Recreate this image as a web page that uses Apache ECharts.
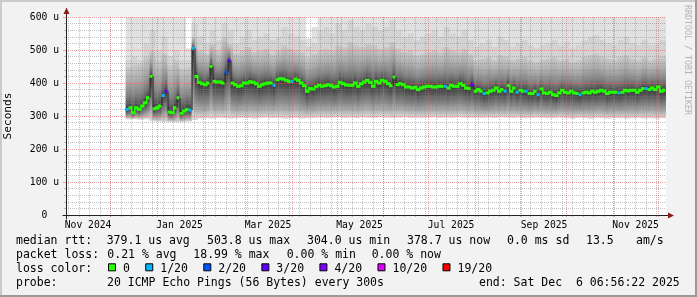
<!DOCTYPE html>
<html><head><meta charset="utf-8">
<script src="https://cdn.jsdelivr.net/npm/echarts@6/dist/echarts.min.js"></script>
<style>html,body{margin:0;padding:0;background:#f2f2f2}#c{width:697px;height:297px}</style>
</head><body><div id="c"></div>
<script>
const DAY = 86400000;
const axisStart = Date.UTC(2024, 10, 1, 6, 56, 22);
const axisEnd = Date.UTC(2025, 11, 6, 6, 56, 22);
const seriesStart = Date.UTC(2024, 11, 11);
const medianStepDays = 2;
const smokeStepDays = 4;

// median rtt (us), one value per 2 days from 2024-12-11
const median = [
  320,325,310,325,320,330,340,355,420,322,
  325,330,362,375,312,310,325,355,308,315,
  320,318,505,420,402,398,395,400,450,405,
  403,403,400,433,468,400,395,390,392,400,
  400,404,402,398,390,395,398,400,400,393,
  410,413,412,408,405,405,412,408,400,392,
  375,383,382,389,393,390,392,395,392,388,
  390,402,398,394,393,393,400,390,398,403,
  408,402,390,405,400,408,405,398,392,418,
  395,398,395,388,388,385,387,380,385,388,
  390,390,388,388,390,390,390,385,393,390,
  390,398,393,385,383,395,375,380,375,368,
  370,375,378,385,375,380,375,392,375,385,
  372,378,375,375,368,368,375,365,382,370,
  368,372,365,362,370,378,372,370,375,370,
  368,365,370,372,370,375,372,375,378,375,
  368,372,372,372,370,372,378,376,378,378,
  372,378,383,383,380,385,380,388,375,378
];
// lost pings out of 20, same buckets as median
const lossCount = [
  1,0,0,0,0,0,0,0,0,0, 0,0,1,3,0,0,0,0,0,0,
  0,1,1,0,0,0,0,0,0,0, 0,0,0,2,3,0,0,0,0,0,
  0,0,0,0,0,0,0,0,0,1, 0,0,0,0,0,1,0,0,0,0,
  0,0,0,0,0,0,0,0,0,0, 0,0,0,0,0,0,0,0,0,0,
  0,0,0,0,0,0,0,0,0,0, 0,0,0,0,0,0,0,0,0,0,
  0,0,0,0,0,0,1,0,0,0, 0,0,0,0,0,3,0,0,0,1,
  0,0,0,0,0,0,1,0,0,0, 1,0,0,1,0,0,0,1,0,0,
  0,0,0,0,0,0,0,0,0,0, 0,1,0,0,0,0,0,0,0,0,
  0,0,0,0,1,0,0,0,0,0, 0,0,0,1,0,0,0,0,0,0
];
// smoke: lowest ping, upper edge of dense smoke, highest ping (us), one per 4 days
const smokeLow = [
  290,290,289,290,284,283,282,282,281,282,
  283,288,292,293,292,294,293,292,293,294,
  293,292,294,295,293,294,292,293,294,292,
  293,294,295,294,295,296,294,295,294,296,
  295,294,296,295,294,295,296,294,295,294,
  295,296,294,295,294,296,295,294,295,294,
  295,294,296,295,294,295,293,294,295,294,
  293,294,295,293,292,294,293,292,294,293,
  292,294,293,292,293,294,292,293,292,293
];
const smokeHigh = [
  450,455,460,480,500,470,490,455,470,445,
  450,540,500,490,520,500,540,520,490,500,
  510,495,500,505,490,500,515,505,500,495,
  480,490,500,505,500,515,510,525,515,510,
  520,515,505,510,525,505,495,500,485,490,
  495,500,495,510,500,495,505,490,470,475,
  480,470,485,480,470,475,480,470,465,470,
  475,480,470,475,465,470,480,485,490,480,
  475,470,480,485,475,470,480,470,475,480
];
// upper edge of the faint streaks above the dense smoke (us)
const smokeStreak = [
  470,480,470,520,560,500,540,480,500,470,
  470,580,540,520,560,530,580,560,520,540,
  560,530,540,550,530,540,570,550,540,530,
  510,520,560,570,550,580,560,590,570,560,
  580,570,560,570,590,560,540,550,530,540,
  550,560,540,570,550,540,560,530,510,520,
  530,510,540,530,510,520,530,515,505,515,
  520,530,515,525,505,515,530,540,545,530,
  520,515,530,540,520,515,530,515,520,530
];
const smokeTop = [
  620,620,620,620,620,620,620,620,620,620,
  505,620,620,620,620,620,620,620,620,620,
  620,620,620,620,620,620,620,620,620,620,
  535,570,620,620,620,620,620,620,620,620,
  620,620,620,620,620,620,620,620,620,620,
  620,620,620,620,620,620,620,620,620,620,
  620,620,620,620,620,620,620,620,620,620,
  620,620,620,620,620,620,620,620,620,620,
  620,620,620,620,620,620,620,620,620,620
];

const yTickLabels = ['  0  ','100 u','200 u','300 u','400 u','500 u','600 u'];
const xLabels = ['Nov 2024','Jan 2025','Mar 2025','May 2025','Jul 2025','Sep 2025','Nov 2025'];
const xLabelMonthOffsets = [0,2,4,6,8,10,12];
const xMajorMonthOffsets = [1,2,3,4,5,6,7,8,9,10,11,12,13];

const lossLevels = [0,1,2,3,4,10,19];
const lossLabels = ['0','1/20','2/20','3/20','4/20','10/20','19/20'];
const lossColors = ['#26ff00','#00b8ff','#0059ff','#5e00ff','#7e00ff','#dd00ff','#ff0000'];

const medianStats = ['379.1 us avg','503.8 us max','304.0 us min','378.7 us now','0.0 ms sd','13.5','am/s'];
const lossStats = ['0.21 % avg','18.99 % max','0.00 % min','0.00 % now'];
const probeText = '20 ICMP Echo Pings (56 Bytes) every 300s';
const endText = 'end: Sat Dec  6 06:56:22 2025';

const MONO = '"DejaVu Sans Mono", monospace';

// ---- axis structure ----
const monthTicks = xMajorMonthOffsets.map(k => Date.UTC(2024, 10 + k, 1));
const labelPos = xLabelMonthOffsets.map(k => Date.UTC(2024, 10 + k, 1) + 15 * DAY);
const weekTicks = [];
for (let t = Date.UTC(2024, 10, 3); t < axisEnd; t += 7 * DAY) weekTicks.push(t);

function lossColor(n) {
  let c = lossColors[0];
  for (let k = 0; k < lossLevels.length; k++) if (n >= lossLevels[k]) c = lossColors[k];
  return c;
}

// ---- series data ----
const medianData = median.map((m, i) => {
  const t0 = seriesStart + i * medianStepDays * DAY;
  const t1 = Math.min(t0 + medianStepDays * DAY, axisEnd);
  return [t0, t1, m, i > 0 ? median[i - 1] : m, lossCount[i], i > 0 ? lossCount[i - 1] : lossCount[i]];
});
const smokeData = median.map((m, i) => {
  const t0 = seriesStart + i * medianStepDays * DAY;
  const t1 = Math.min(t0 + medianStepDays * DAY, axisEnd);
  const j = Math.floor(i * medianStepDays / smokeStepDays);
  return [t0, t1, smokeLow[j], m, smokeHigh[j], smokeStreak[j], smokeTop[j]];
});

const upperStops = [
  {offset: 0, color: '#c9c9c9'}, {offset: 0.35, color: '#ababab'},
  {offset: 0.65, color: '#868686'}, {offset: 0.88, color: '#5c5c5c'}, {offset: 1, color: '#383838'}
];
const lowerStops = [
  {offset: 0, color: '#383838'}, {offset: 0.25, color: '#5a5a5a'},
  {offset: 0.55, color: '#878787'}, {offset: 0.8, color: '#b2b2b2'}, {offset: 1, color: '#dcdcdc'}
];

function renderSmoke(params, api) {
  const t0 = api.value(0), t1 = api.value(1);
  const lo = api.value(2), m = api.value(3);
  const hi = Math.max(api.value(4), m + 20);
  const st = Math.max(api.value(5), hi);
  const top = Math.max(api.value(6), hi);
  const x0 = api.coord([t0, 0])[0], x1 = api.coord([t1, 0])[0];
  const yLo = api.coord([t0, lo])[1], yM = api.coord([t0, m])[1];
  const yHi = api.coord([t0, hi])[1], ySt = api.coord([t0, Math.min(st, top)])[1], yTop = api.coord([t0, top])[1];
  const w = x1 - x0 + 0.4;
  return {type: 'group', children: [
    {type: 'rect', shape: {x: x0, y: yTop, width: w, height: yHi - yTop}, style: {fill: '#e0e0e0'}},
    {type: 'rect', shape: {x: x0, y: ySt, width: w, height: yHi - ySt}, style: {fill: '#d2d2d2'}},
    {type: 'rect', shape: {x: x0, y: yHi, width: w, height: yM - yHi},
      style: {fill: new echarts.graphic.LinearGradient(0, 0, 0, 1, upperStops)}},
    {type: 'rect', shape: {x: x0, y: yM, width: w, height: yLo - yM},
      style: {fill: new echarts.graphic.LinearGradient(0, 0, 0, 1, lowerStops)}}
  ]};
}
function renderMedian(params, api) {
  const t0 = api.value(0), t1 = api.value(1), m = api.value(2), mp = api.value(3);
  const loss = api.value(4), lossPrev = api.value(5);
  const p0 = api.coord([t0, m]), p1 = api.coord([t1, m]);
  const yp = api.coord([t0, mp])[1];
  const c = lossColor(loss);
  const children = [];
  if (Math.abs(yp - p0[1]) > 6) {
    children.push({type: 'line', shape: {x1: p0[0] + 0.5, y1: yp, x2: p0[0] + 0.5, y2: p0[1]}, style: {stroke: '#2a2a2a', lineWidth: 1}});
  } else if (lossPrev === loss) {
    const yt = Math.min(yp, p0[1]) - 1.5, yb = Math.max(yp, p0[1]) + 1.5;
    children.push({type: 'rect', shape: {x: p0[0] - 0.5, y: yt, width: 1.5, height: yb - yt}, style: {fill: c}});
  }
  children.push({type: 'rect', shape: {x: p0[0], y: p0[1] - 1.5, width: p1[0] - p0[0], height: 3}, style: {fill: c}});
  return {type: 'group', children: children};
}

const chart = echarts.init(document.getElementById('c'), null, {renderer: 'canvas'});
const minorGrid = 'rgba(130,130,130,0.5)';
const majorGrid = 'rgba(225,100,100,0.6)';
chart.setOption({
  backgroundColor: '#f2f2f2',
  animation: false,
  grid: {left: 66, top: 17, width: 600, height: 198, show: true, backgroundColor: '#ffffff', borderWidth: 0, outerBoundsMode: 'none'},
  xAxis: [
    {type: 'value', min: axisStart, max: axisEnd, z: 4,
      axisLine: {show: false},
      axisTick: {show: true, customValues: monthTicks, length: 2, lineStyle: {color: majorGrid}},
      axisLabel: {show: true, customValues: labelPos, fontFamily: MONO, fontSize: 9.7, color: '#000', margin: 5,
        formatter: v => { const k = labelPos.findIndex(p => Math.abs(p - v) < DAY); return k >= 0 ? xLabels[k] : ''; }},
      splitLine: {show: true, lineStyle: {color: majorGrid, type: [1, 1], width: 1}}
    },
    {type: 'value', min: axisStart, max: axisEnd, z: 3, position: 'bottom',
      axisLine: {show: false},
      axisTick: {show: true, customValues: weekTicks, length: 2, lineStyle: {color: minorGrid}},
      axisLabel: {show: false},
      splitLine: {show: true, lineStyle: {color: minorGrid, type: [1, 1], width: 1}}
    }
  ],
  yAxis: {type: 'value', min: 0, max: 600, interval: 100, z: 4,
    axisLine: {show: false},
    axisTick: {show: true, length: 3, lineStyle: {color: majorGrid}},
    minorTick: {show: true, splitNumber: 5, length: 2, lineStyle: {color: minorGrid}},
    axisLabel: {fontFamily: MONO, fontSize: 9.7, color: '#000', margin: 7,
      formatter: v => yTickLabels[Math.round(v / 100)]},
    splitLine: {show: true, lineStyle: {color: majorGrid, type: [1, 1], width: 1}},
    minorSplitLine: {show: true, lineStyle: {color: minorGrid, type: [1, 1], width: 1}},
    name: 'Seconds', nameLocation: 'middle', nameGap: 52, nameRotate: 90,
    nameTextStyle: {fontFamily: MONO, fontSize: 11.2, color: '#000'}
  },
  series: [
    {type: 'custom', name: 'smoke', xAxisIndex: 0, yAxisIndex: 0, z: 2, clip: true,
      renderItem: renderSmoke, encode: {x: [0, 1], y: [2, 6]}, data: smokeData, silent: true},
    {type: 'custom', name: 'median', xAxisIndex: 0, yAxisIndex: 0, z: 10, clip: true,
      renderItem: renderMedian, encode: {x: [0, 1], y: [2, 3]}, data: medianData, silent: true}
  ]
});

// ---- frame, arrows, legend text ----
const pA = chart.convertToPixel({gridIndex: 0}, [axisStart, 0]);
const pB = chart.convertToPixel({gridIndex: 0}, [axisEnd, 600]);
const ax = Math.round(pA[0]) + 0.5, ay = Math.round(pA[1]) + 0.5;
const W = 697, H = 297;
const g = [];
g.push({type: 'rect', shape: {x: 0, y: 0, width: W, height: 2}, style: {fill: '#cbcbcb'}, z: 50});
g.push({type: 'rect', shape: {x: 0, y: 0, width: 2, height: H}, style: {fill: '#cbcbcb'}, z: 50});
g.push({type: 'rect', shape: {x: 0, y: H - 2, width: W, height: 2}, style: {fill: '#999999'}, z: 51});
g.push({type: 'rect', shape: {x: W - 2, y: 0, width: 2, height: H}, style: {fill: '#999999'}, z: 51});
g.push({type: 'line', shape: {x1: ax, y1: ay + 4, x2: ax, y2: pB[1] - 7}, style: {stroke: '#222', lineWidth: 1}, z: 20});
g.push({type: 'line', shape: {x1: ax - 4, y1: ay, x2: pB[0] + 4, y2: ay}, style: {stroke: '#222', lineWidth: 1}, z: 20});
g.push({type: 'polygon', shape: {points: [[ax - 3, pB[1] - 3], [ax + 3, pB[1] - 3], [ax, pB[1] - 9.5]]}, style: {fill: '#8b1a1a'}, z: 21});
g.push({type: 'polygon', shape: {points: [[pB[0] + 2, ay - 3], [pB[0] + 2, ay + 3], [pB[0] + 8, ay]]}, style: {fill: '#8b1a1a'}, z: 21});
g.push({type: 'text', x: 687, y: 5, rotation: -Math.PI / 2, z: 30,
  style: {text: 'RRDTOOL / TOBI OETIKER', fill: '#b4b4b4', font: '8.3px ' + MONO, align: 'left', verticalAlign: 'middle'}});

function txt(s, x, y) {
  g.push({type: 'text', x: x, y: y, z: 30, style: {text: s, fill: '#000', font: '11.5px ' + MONO, align: 'left', verticalAlign: 'middle'}});
}
const rowY = [241.5, 255.5, 269.3, 283.3];
const medX = [106.7, 207, 307, 407, 507, 586, 636];
txt('median rtt:', 16, rowY[0]);
medianStats.forEach((s, k) => txt(s, medX[k], rowY[0]));
const lossX = [107.3, 193.3, 286.7, 371.7];
txt('packet loss:', 16, rowY[1]);
lossStats.forEach((s, k) => txt(s, lossX[k], rowY[1]));
txt('loss color:', 16, rowY[2]);
let bx = 108;
const CH = 6.94;
lossLabels.forEach((s, k) => {
  g.push({type: 'rect', shape: {x: bx + 0.5, y: rowY[2] - 5.5, width: 7, height: 7}, z: 30,
    style: {fill: lossColors[k], stroke: '#000', lineWidth: 1}});
  txt(s, bx + 15, rowY[2]);
  bx = bx + 15 + s.length * CH + 15.3;
});
txt('probe:', 16, rowY[3]);
txt(probeText, 107, rowY[3]);
txt(endText, 479, rowY[3]);
chart.setOption({graphic: g});
</script></body></html>
